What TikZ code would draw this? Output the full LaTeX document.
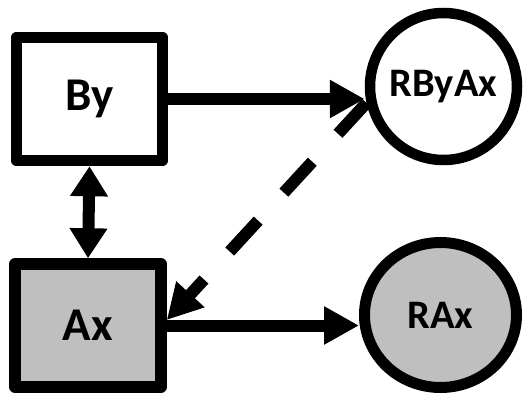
\documentclass[tikz,border=0pt]{standalone}
\usepackage{fontspec}
\setmainfont{Carlito}
\usetikzlibrary{arrows.meta,shapes.geometric}
\definecolor{fillgray}{RGB}{191,191,191}
\begin{document}
\begin{tikzpicture}[x=1pt,y=1pt,
  boxnode/.style={draw, line width=11.5pt, line join=round, minimum width=146pt,
    minimum height=123pt, inner sep=0pt, font=\bfseries\fontsize{47}{50}\selectfont},
  roundnode/.style={draw, line width=10.5pt, inner sep=0pt,
    font=\bfseries\fontsize{40.5}{44}\selectfont},
  headtip/.style={Triangle[length=35pt,width=36pt]},
  link/.style={line width=12pt, -{Triangle[length=35pt,width=36pt]}},
  dashlink/.style={link, dash pattern=on 42pt off 38pt},
]
\useasboundingbox (0,0) rectangle (524,394);

% rectangles on the left
\node[boxnode, fill=white]    (by) at (89.5,295) {By};
\node[boxnode, fill=fillgray] (ax) at (88,68.5)  {Ax};

% round nodes on the right
\node[roundnode, circle, minimum size=147pt, fill=white] (rb) at (443.5,307.5) {RByAx};
\node[roundnode, ellipse, line width=11pt, minimum width=152pt, minimum height=145pt,
      fill=fillgray] (ra) at (440.5,79) {RAx};

% connectors
\draw[link] (by.east) -- (by.east -| rb.west);
\draw[link] (ax.east) -- (ax.east -| ra.west);
\draw[line width=12pt, {Triangle[length=30pt,width=36pt]}-{Triangle[length=30pt,width=36pt]}]
  (by.south) -- (ax.north);
\draw[dashlink] (rb.192.6) -- ([yshift=5.5pt]ax.east);
\end{tikzpicture}
\end{document}
